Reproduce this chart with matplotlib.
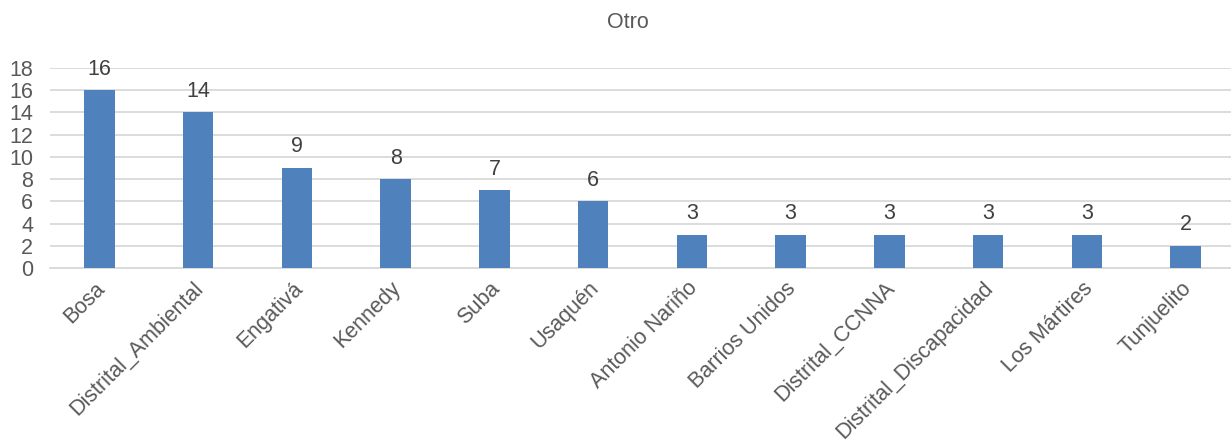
import matplotlib
matplotlib.use("Agg")
import matplotlib.pyplot as plt
from matplotlib.transforms import ScaledTranslation

categories = ["Bosa", "Distrital_Ambiental", "Engativá", "Kennedy", "Suba", "Usaquén",
              "Antonio Nariño", "Barrios Unidos", "Distrital_CCNNA", "Distrital_Discapacidad",
              "Los Mártires", "Tunjuelito"]
values = [16, 14, 9, 8, 7, 6, 3, 3, 3, 3, 3, 2]
yticks = [0, 2, 4, 6, 8, 10, 12, 14, 16, 18]
title = "Otro"

plt.rcParams['font.family'] = ['Liberation Sans', 'DejaVu Sans']

W, H = 1231, 443
fig = plt.figure(figsize=(W / 100, H / 100), dpi=100)
ax = fig.add_axes([50 / W, 1 - 268 / H, (1235 - 50) / W, (268 - 68) / H])

x = range(len(categories))
bars = ax.bar(x, values, width=0.31, color="#4F81BD", zorder=3)
for xi, v in zip(x, values):
    ax.text(xi, v + 0.95, str(v), ha="center", va="bottom", fontsize=15.5, color="#404040")

ax.set_xlim(-0.5, len(categories) - 0.5)
ax.set_ylim(0, 18)
ax.set_yticks(yticks)
ax.yaxis.grid(True, color="#D9D9D9", linewidth=1.3, zorder=0)
ax.set_axisbelow(True)
for s in ["top", "right", "left"]:
    ax.spines[s].set_visible(False)
ax.spines["bottom"].set_color("#D9D9D9")
ax.spines["bottom"].set_linewidth(1.3)
ax.tick_params(axis="both", length=0, labelsize=15.5, labelcolor="#595959")
ax.tick_params(axis="y", pad=12)
ax.set_xticks(list(x))
ax.set_xticklabels(categories, rotation=45, ha="right", rotation_mode="anchor")
ax.tick_params(axis="x", pad=7)
offset = ScaledTranslation(-5 / 100, 0, fig.dpi_scale_trans)
for lab in ax.get_xticklabels():
    lab.set_transform(lab.get_transform() + offset)

fig.text(628 / W, 1 - 22 / H, title, ha="center", va="center", fontsize=15.5, color="#595959")

fig.savefig("out.png", dpi=100)
